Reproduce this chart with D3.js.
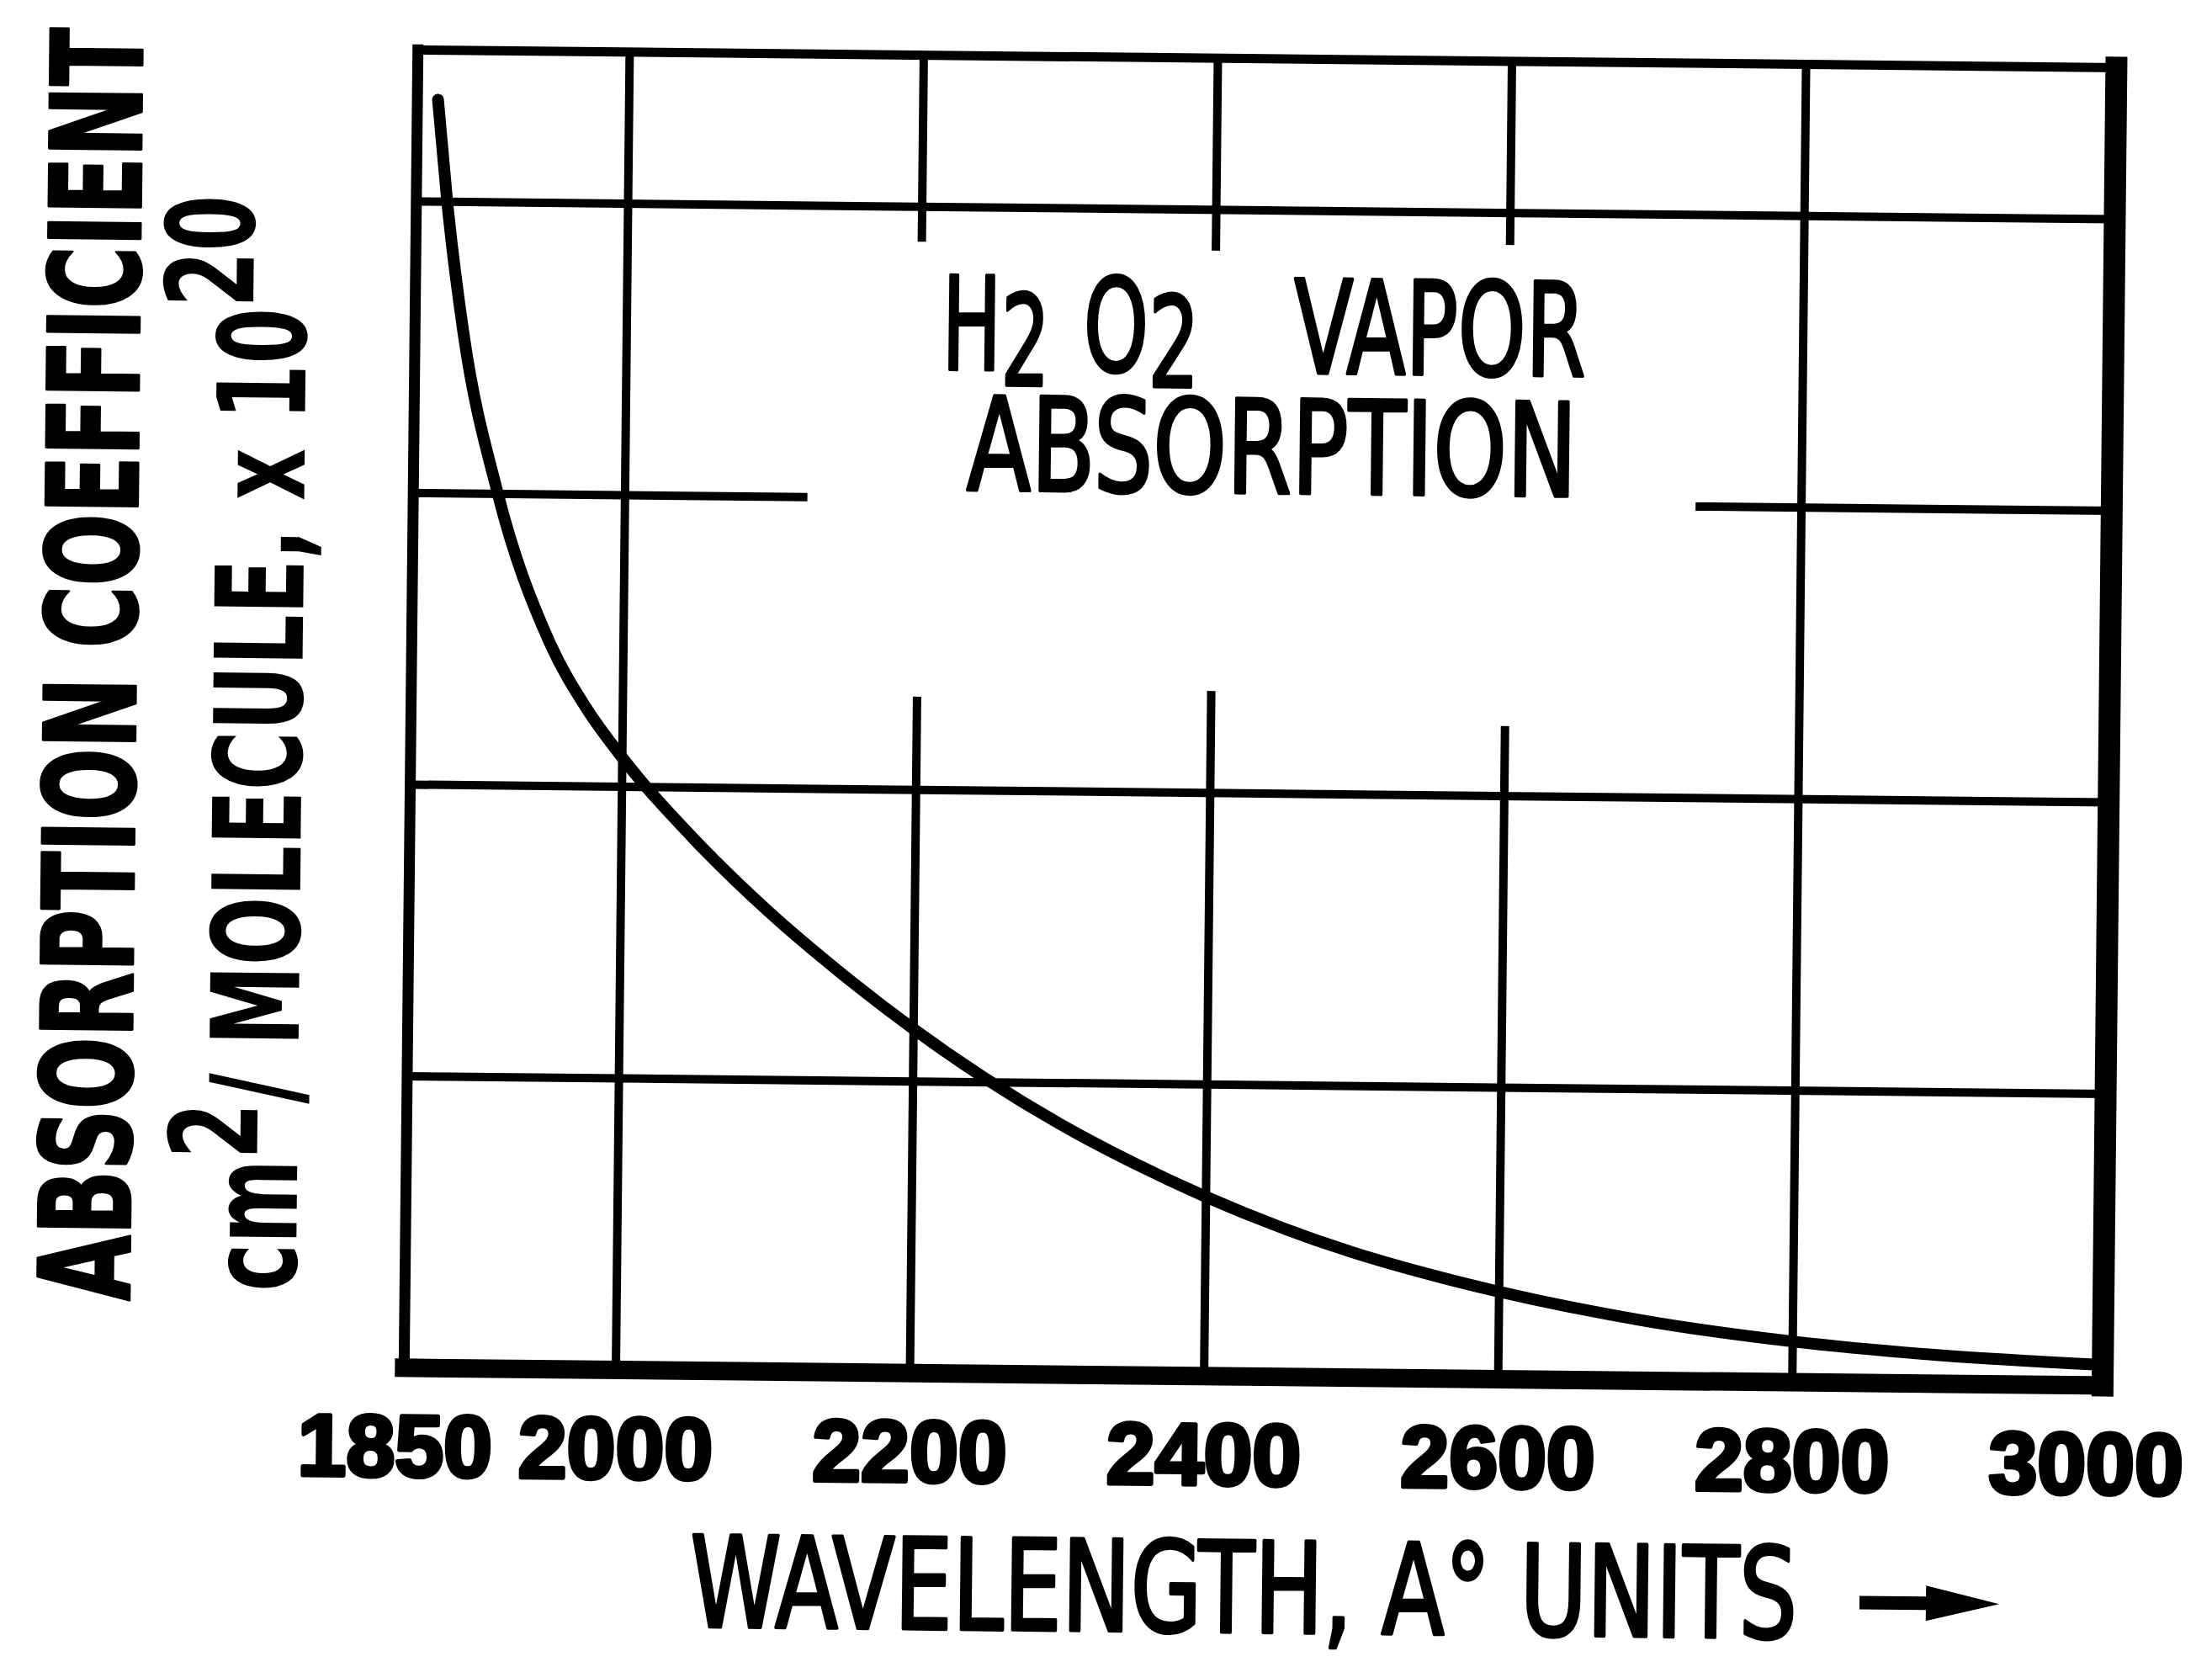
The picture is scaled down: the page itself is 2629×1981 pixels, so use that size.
<!DOCTYPE html>
<html><head><meta charset="utf-8">
<script src="https://cdn.jsdelivr.net/npm/d3@7"></script>
<style>html,body{margin:0;padding:0;background:#fff;} svg{display:block;background:#fff}</style>
</head><body>
<svg id="chart" width="2629" height="1981"></svg>
<script>
// ---- data ----
const wavelength = [1870,1877,1889,1913,1950,1975,2000,2050,2100,2150,2200,2250,2300,2350,2400,2450,2500,2550,2600,2700,2800,2900,3005];
const absorption = [4.35,4.00,3.55,3.01,2.49,2.27,2.10,1.82,1.58,1.37,1.18,1.01,0.86,0.73,0.615,0.515,0.43,0.36,0.30,0.205,0.14,0.098,0.072];
const xTicks = [1850,2000,2200,2400,2600,2800,3000];
const xTickLabels = ["1850","2000","2200","2400","2600","2800","3000"];
const hGridValues = [1,2,3,4];
const vGridValues = [2000,2200,2400,2600,2800];
// breaks left open in the grid around the title (data units)
const vGridBreakX = [2200,2400,2600];
const vGridBreakLow = [2.32,2.35,2.24];
const vGridBreakHigh = [3.88,3.86,3.89];
const hGridBreakY = [3];
const hGridBreakFrom = [2124];
const hGridBreakTo = [2728];
const frameXRange = [1856, 3011];
const frameTopValue = 4.52;

// ---- layout ----
const svg = d3.select("#chart");
const g = svg.append("g").attr("transform","rotate(0.6,1500,850)");
const x = d3.scaleLinear().domain([1850,3000]).range([478,2488]);
const y = d3.scaleLinear().domain([0,4]).range([1636,250]);
const fL = x(frameXRange[0]), fR = x(frameXRange[1]), fT = y(frameTopValue), fB = y(0);
const ink = "#000";

// grid: horizontal
const gridG = g.append("g").attr("stroke",ink).attr("stroke-width",10).attr("fill","none");
hGridValues.forEach(v=>{
  const bi = hGridBreakY.indexOf(v);
  if (bi < 0) {
    gridG.append("line").attr("x1",fL).attr("x2",fR).attr("y1",y(v)).attr("y2",y(v));
  } else {
    gridG.append("line").attr("x1",fL).attr("x2",x(hGridBreakFrom[bi])).attr("y1",y(v)).attr("y2",y(v));
    gridG.append("line").attr("x1",x(hGridBreakTo[bi])).attr("x2",fR).attr("y1",y(v)).attr("y2",y(v));
  }
});
// grid: vertical
vGridValues.forEach(v=>{
  const bi = vGridBreakX.indexOf(v);
  if (bi < 0) {
    gridG.append("line").attr("x1",x(v)).attr("x2",x(v)).attr("y1",fT).attr("y2",fB);
  } else {
    gridG.append("line").attr("x1",x(v)).attr("x2",x(v)).attr("y1",fT).attr("y2",y(vGridBreakHigh[bi]));
    gridG.append("line").attr("x1",x(v)).attr("x2",x(v)).attr("y1",y(vGridBreakLow[bi])).attr("y2",fB);
  }
});

// frame
const frame = g.append("g").attr("stroke",ink).attr("stroke-linecap","square");
frame.append("line").attr("x1",fL).attr("x2",fR).attr("y1",fT).attr("y2",fT).attr("stroke-width",11);
frame.append("line").attr("x1",fL).attr("x2",fL).attr("y1",fT).attr("y2",fB).attr("stroke-width",13);
frame.append("line").attr("x1",fL).attr("x2",fR).attr("y1",fB).attr("y2",fB).attr("stroke-width",22);
frame.append("line").attr("x1",fR).attr("x2",fR).attr("y1",fT).attr("y2",fB).attr("stroke-width",26);

// curve
const pts = wavelength.map((w,i)=>[w,absorption[i]]);
const line = d3.line().x(d=>x(d[0])).y(d=>y(d[1])).curve(d3.curveMonotoneX);
g.append("path").attr("d",line(pts)).attr("fill","none").attr("stroke",ink)
  .attr("stroke-width",14).attr("stroke-linecap","round").attr("stroke-linejoin","round");

// x axis labels
const axis = d3.axisBottom(x).tickValues(xTicks).tickFormat((d,i)=>xTickLabels[i]).tickSize(0);
const axG = g.append("g").attr("transform",`translate(0,${y(0)})`).call(axis);
axG.select(".domain").remove();
axG.selectAll("text").attr("y",129).attr("dy",0)
  .attr("font-family","'Liberation Sans',Arial,sans-serif").attr("font-weight","bold")
  .attr("font-size",104).attr("fill",ink).attr("stroke",ink).attr("stroke-width",5)
  .attr("stroke-linejoin","round");

const narrow = "'Liberation Sans Narrow','DejaVu Sans Condensed','Arial Narrow','Liberation Sans',sans-serif";
const condBold = "'DejaVu Sans Condensed','DejaVu Sans',sans-serif";

// title in the plot
function titleText(px, py, len) {
  return g.append("text").attr("x",px).attr("y",py).attr("font-family",narrow).attr("font-size",154)
    .attr("fill",ink).attr("stroke",ink).attr("stroke-width",4).attr("stroke-linejoin","round")
    .attr("textLength",len).attr("lengthAdjust","spacingAndGlyphs");
}
const t1 = titleText(1115,443,128);
t1.append("tspan").text("H");
t1.append("tspan").attr("dy",18).attr("font-size",150).text("2");
const t2 = titleText(1283,443,138);
t2.append("tspan").text("O");
t2.append("tspan").attr("dy",18).attr("font-size",150).text("2");
titleText(1533,443,347).text("VAPOR");
titleText(1146,586,725).text("ABSORPTION");

// y axis title (two lines)
g.append("text").attr("transform","translate(161,804) rotate(-90)").attr("text-anchor","middle")
  .attr("font-family",condBold).attr("font-weight","bold").attr("font-size",150).attr("fill",ink)
  .attr("stroke",ink).attr("stroke-width",3).attr("stroke-linejoin","round")
  .attr("textLength",1512).attr("lengthAdjust","spacingAndGlyphs").text("ABSORPTION COEFFICIENT");
const yl2 = g.append("text").attr("transform","translate(359,896) rotate(-90)").attr("text-anchor","middle")
  .attr("font-family",condBold).attr("font-weight","bold").attr("font-size",145).attr("fill",ink)
  .attr("textLength",1302).attr("lengthAdjust","spacingAndGlyphs");
yl2.append("tspan").text("cm");
yl2.append("tspan").attr("dy",-48).text("2");
yl2.append("tspan").attr("dy",48).text("/ MOLECULE, x 10");
yl2.append("tspan").attr("dy",-63).text("20");

// x axis title
g.append("text").attr("x",831).attr("y",1940).attr("font-family",narrow).attr("font-size",150)
  .attr("fill",ink).attr("stroke",ink).attr("stroke-width",4).attr("stroke-linejoin","round")
  .attr("textLength",1316).attr("lengthAdjust","spacingAndGlyphs").text("WAVELENGTH, A\u00B0 UNITS");
// arrow
g.append("path").attr("fill",ink)
  .attr("d","M2221,1889 L2300,1889 L2300,1876 L2387,1897 L2300,1918 L2300,1905 L2221,1905 Z");
</script>
</body></html>
